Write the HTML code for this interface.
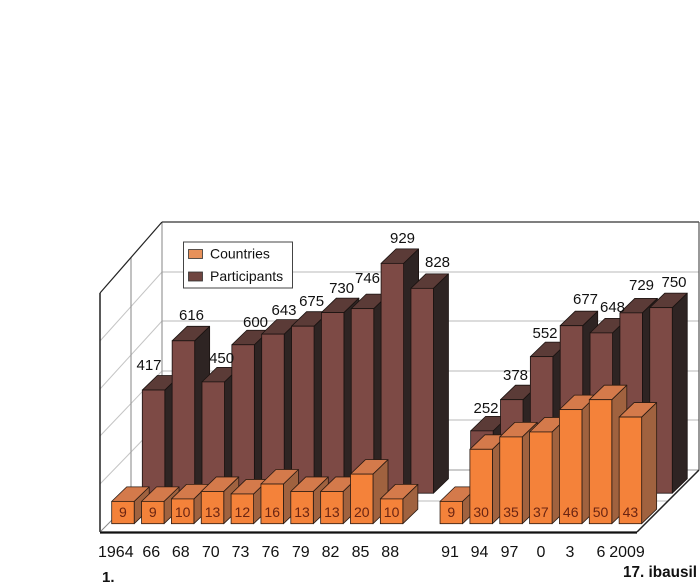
<!DOCTYPE html>
<html>
<head>
<meta charset="utf-8">
<style>
html,body{margin:0;padding:0;background:#fff;}
svg{display:block;}
text{font-family:"Liberation Sans",sans-serif;fill:#111;}
.cf{fill:#F4823A;stroke:#2a1a12;stroke-width:.8;}
.ct{fill:#D47A4B;stroke:#2a1a12;stroke-width:.8;stroke-linejoin:round;}
.cs{fill:#A0623F;stroke:#2a1a12;stroke-width:.8;stroke-linejoin:round;}
.pf{fill:#7D4A45;stroke:#1a1210;stroke-width:.8;}
.pt{fill:#5B3B37;stroke:#1a1210;stroke-width:.8;stroke-linejoin:round;}
.ps{fill:#2E2423;stroke:#1a1210;stroke-width:.8;stroke-linejoin:round;}
.in{font-size:14px;fill:#6a2412;text-anchor:middle;}
.dl{font-size:15px;text-anchor:middle;}
.cat{font-size:16px;text-anchor:middle;}
</style>
</head>
<body>
<svg width="700" height="584" viewBox="0 0 700 584" xmlns="http://www.w3.org/2000/svg">
<rect x="0" y="0" width="700" height="584" fill="#fff"/>

<!-- walls & floor -->
<g fill="none">
  <line x1="162" y1="272" x2="699" y2="272" stroke="#b8b8b8"/>
  <line x1="162" y1="321" x2="699" y2="321" stroke="#b8b8b8"/>
  <line x1="162" y1="371" x2="699" y2="371" stroke="#b8b8b8"/>
  <line x1="162" y1="420" x2="699" y2="420" stroke="#b8b8b8"/>
  <line x1="162" y1="272" x2="100" y2="341" stroke="#c4c4c4"/>
  <line x1="162" y1="321" x2="100" y2="389" stroke="#c4c4c4"/>
  <line x1="162" y1="371" x2="100" y2="436" stroke="#c4c4c4"/>
  <line x1="162" y1="420" x2="100" y2="484" stroke="#c4c4c4"/>
  <line x1="131" y1="257.5" x2="131" y2="501" stroke="#9a9a9a" stroke-width="1.2"/>
  <line x1="162" y1="222" x2="162" y2="470" stroke="#999" stroke-width="1.2"/>
  <line x1="162" y1="222" x2="699" y2="222" stroke="#333" stroke-width="1.2"/>
  <line x1="699" y1="222" x2="699" y2="470" stroke="#555" stroke-width="1.2"/>
  <line x1="162" y1="222" x2="100" y2="293" stroke="#222" stroke-width="1.2"/>
  <line x1="100" y1="293" x2="100" y2="532" stroke="#222" stroke-width="1.5"/>
  <line x1="162" y1="470" x2="699" y2="470" stroke="#999"/>
  <line x1="131" y1="501" x2="668" y2="501" stroke="#bbb"/>
  <line x1="100" y1="532" x2="162" y2="470" stroke="#888"/>
  <line x1="699" y1="470" x2="637" y2="532" stroke="#222" stroke-width="1.5"/>
  <line x1="100" y1="532.5" x2="637" y2="532.5" stroke="#111" stroke-width="2.2"/>
</g>

<!-- Participants (back row) -->
<g transform="translate(142.3,493.2)"><polygon class="ps" points="22.5,-103.17 37.5,-117.67 37.5,-14.5 22.5,0"/><polygon class="pt" points="0,-103.17 22.5,-103.17 37.5,-117.67 15,-117.67"/><rect class="pf" x="0" y="-103.17" width="22.5" height="103.17"/></g>
<g transform="translate(172.15,493.2)"><polygon class="ps" points="22.5,-152.4 37.5,-166.9 37.5,-14.5 22.5,0"/><polygon class="pt" points="0,-152.4 22.5,-152.4 37.5,-166.9 15,-166.9"/><rect class="pf" x="0" y="-152.4" width="22.5" height="152.4"/></g>
<g transform="translate(202,493.2)"><polygon class="ps" points="22.5,-111.33 37.5,-125.83 37.5,-14.5 22.5,0"/><polygon class="pt" points="0,-111.33 22.5,-111.33 37.5,-125.83 15,-125.83"/><rect class="pf" x="0" y="-111.33" width="22.5" height="111.33"/></g>
<g transform="translate(231.85,493.2)"><polygon class="ps" points="22.5,-148.44 37.5,-162.94 37.5,-14.5 22.5,0"/><polygon class="pt" points="0,-148.44 22.5,-148.44 37.5,-162.94 15,-162.94"/><rect class="pf" x="0" y="-148.44" width="22.5" height="148.44"/></g>
<g transform="translate(261.7,493.2)"><polygon class="ps" points="22.5,-159.08 37.5,-173.58 37.5,-14.5 22.5,0"/><polygon class="pt" points="0,-159.08 22.5,-159.08 37.5,-173.58 15,-173.58"/><rect class="pf" x="0" y="-159.08" width="22.5" height="159.08"/></g>
<g transform="translate(291.55,493.2)"><polygon class="ps" points="22.5,-167 37.5,-181.5 37.5,-14.5 22.5,0"/><polygon class="pt" points="0,-167 22.5,-167 37.5,-181.5 15,-181.5"/><rect class="pf" x="0" y="-167" width="22.5" height="167"/></g>
<g transform="translate(321.4,493.2)"><polygon class="ps" points="22.5,-180.6 37.5,-195.1 37.5,-14.5 22.5,0"/><polygon class="pt" points="0,-180.6 22.5,-180.6 37.5,-195.1 15,-195.1"/><rect class="pf" x="0" y="-180.6" width="22.5" height="180.6"/></g>
<g transform="translate(351.25,493.2)"><polygon class="ps" points="22.5,-184.56 37.5,-199.06 37.5,-14.5 22.5,0"/><polygon class="pt" points="0,-184.56 22.5,-184.56 37.5,-199.06 15,-199.06"/><rect class="pf" x="0" y="-184.56" width="22.5" height="184.56"/></g>
<g transform="translate(381.1,493.2)"><polygon class="ps" points="22.5,-229.83 37.5,-244.33 37.5,-14.5 22.5,0"/><polygon class="pt" points="0,-229.83 22.5,-229.83 37.5,-244.33 15,-244.33"/><rect class="pf" x="0" y="-229.83" width="22.5" height="229.83"/></g>
<g transform="translate(410.95,493.2)"><polygon class="ps" points="22.5,-204.85 37.5,-219.35 37.5,-14.5 22.5,0"/><polygon class="pt" points="0,-204.85 22.5,-204.85 37.5,-219.35 15,-219.35"/><rect class="pf" x="0" y="-204.85" width="22.5" height="204.85"/></g>
<g transform="translate(470.65,493.2)"><polygon class="ps" points="22.5,-62.34 37.5,-76.84 37.5,-14.5 22.5,0"/><polygon class="pt" points="0,-62.34 22.5,-62.34 37.5,-76.84 15,-76.84"/><rect class="pf" x="0" y="-62.34" width="22.5" height="62.34"/></g>
<g transform="translate(500.5,493.2)"><polygon class="ps" points="22.5,-93.52 37.5,-108.02 37.5,-14.5 22.5,0"/><polygon class="pt" points="0,-93.52 22.5,-93.52 37.5,-108.02 15,-108.02"/><rect class="pf" x="0" y="-93.52" width="22.5" height="93.52"/></g>
<g transform="translate(530.35,493.2)"><polygon class="ps" points="22.5,-136.56 37.5,-151.06 37.5,-14.5 22.5,0"/><polygon class="pt" points="0,-136.56 22.5,-136.56 37.5,-151.06 15,-151.06"/><rect class="pf" x="0" y="-136.56" width="22.5" height="136.56"/></g>
<g transform="translate(560.2,493.2)"><polygon class="ps" points="22.5,-167.49 37.5,-181.99 37.5,-14.5 22.5,0"/><polygon class="pt" points="0,-167.49 22.5,-167.49 37.5,-181.99 15,-181.99"/><rect class="pf" x="0" y="-167.49" width="22.5" height="167.49"/></g>
<g transform="translate(590.05,493.2)"><polygon class="ps" points="22.5,-160.32 37.5,-174.82 37.5,-14.5 22.5,0"/><polygon class="pt" points="0,-160.32 22.5,-160.32 37.5,-174.82 15,-174.82"/><rect class="pf" x="0" y="-160.32" width="22.5" height="160.32"/></g>
<g transform="translate(619.9,493.2)"><polygon class="ps" points="22.5,-180.35 37.5,-194.85 37.5,-14.5 22.5,0"/><polygon class="pt" points="0,-180.35 22.5,-180.35 37.5,-194.85 15,-194.85"/><rect class="pf" x="0" y="-180.35" width="22.5" height="180.35"/></g>
<g transform="translate(649.75,493.2)"><polygon class="ps" points="22.5,-185.55 37.5,-200.05 37.5,-14.5 22.5,0"/><polygon class="pt" points="0,-185.55 22.5,-185.55 37.5,-200.05 15,-200.05"/><rect class="pf" x="0" y="-185.55" width="22.5" height="185.55"/></g>

<!-- Countries (front row) -->
<g transform="translate(111.7,523.7)"><polygon class="cs" points="22.5,-22.32 37.5,-36.82 37.5,-14.5 22.5,0"/><polygon class="ct" points="0,-22.32 22.5,-22.32 37.5,-36.82 15,-36.82"/><rect class="cf" x="0" y="-22.32" width="22.5" height="22.32"/><text class="in" x="11.25" y="-6.7">9</text></g>
<g transform="translate(141.55,523.7)"><polygon class="cs" points="22.5,-22.32 37.5,-36.82 37.5,-14.5 22.5,0"/><polygon class="ct" points="0,-22.32 22.5,-22.32 37.5,-36.82 15,-36.82"/><rect class="cf" x="0" y="-22.32" width="22.5" height="22.32"/><text class="in" x="11.25" y="-6.7">9</text></g>
<g transform="translate(171.4,523.7)"><polygon class="cs" points="22.5,-24.8 37.5,-39.3 37.5,-14.5 22.5,0"/><polygon class="ct" points="0,-24.8 22.5,-24.8 37.5,-39.3 15,-39.3"/><rect class="cf" x="0" y="-24.8" width="22.5" height="24.8"/><text class="in" x="11.25" y="-6.7">10</text></g>
<g transform="translate(201.25,523.7)"><polygon class="cs" points="22.5,-32.24 37.5,-46.74 37.5,-14.5 22.5,0"/><polygon class="ct" points="0,-32.24 22.5,-32.24 37.5,-46.74 15,-46.74"/><rect class="cf" x="0" y="-32.24" width="22.5" height="32.24"/><text class="in" x="11.25" y="-6.7">13</text></g>
<g transform="translate(231.1,523.7)"><polygon class="cs" points="22.5,-29.76 37.5,-44.26 37.5,-14.5 22.5,0"/><polygon class="ct" points="0,-29.76 22.5,-29.76 37.5,-44.26 15,-44.26"/><rect class="cf" x="0" y="-29.76" width="22.5" height="29.76"/><text class="in" x="11.25" y="-6.7">12</text></g>
<g transform="translate(260.95,523.7)"><polygon class="cs" points="22.5,-39.68 37.5,-54.18 37.5,-14.5 22.5,0"/><polygon class="ct" points="0,-39.68 22.5,-39.68 37.5,-54.18 15,-54.18"/><rect class="cf" x="0" y="-39.68" width="22.5" height="39.68"/><text class="in" x="11.25" y="-6.7">16</text></g>
<g transform="translate(290.8,523.7)"><polygon class="cs" points="22.5,-32.24 37.5,-46.74 37.5,-14.5 22.5,0"/><polygon class="ct" points="0,-32.24 22.5,-32.24 37.5,-46.74 15,-46.74"/><rect class="cf" x="0" y="-32.24" width="22.5" height="32.24"/><text class="in" x="11.25" y="-6.7">13</text></g>
<g transform="translate(320.65,523.7)"><polygon class="cs" points="22.5,-32.24 37.5,-46.74 37.5,-14.5 22.5,0"/><polygon class="ct" points="0,-32.24 22.5,-32.24 37.5,-46.74 15,-46.74"/><rect class="cf" x="0" y="-32.24" width="22.5" height="32.24"/><text class="in" x="11.25" y="-6.7">13</text></g>
<g transform="translate(350.5,523.7)"><polygon class="cs" points="22.5,-49.6 37.5,-64.1 37.5,-14.5 22.5,0"/><polygon class="ct" points="0,-49.6 22.5,-49.6 37.5,-64.1 15,-64.1"/><rect class="cf" x="0" y="-49.6" width="22.5" height="49.6"/><text class="in" x="11.25" y="-6.7">20</text></g>
<g transform="translate(380.35,523.7)"><polygon class="cs" points="22.5,-24.8 37.5,-39.3 37.5,-14.5 22.5,0"/><polygon class="ct" points="0,-24.8 22.5,-24.8 37.5,-39.3 15,-39.3"/><rect class="cf" x="0" y="-24.8" width="22.5" height="24.8"/><text class="in" x="11.25" y="-6.7">10</text></g>
<g transform="translate(440.05,523.7)"><polygon class="cs" points="22.5,-22.32 37.5,-36.82 37.5,-14.5 22.5,0"/><polygon class="ct" points="0,-22.32 22.5,-22.32 37.5,-36.82 15,-36.82"/><rect class="cf" x="0" y="-22.32" width="22.5" height="22.32"/><text class="in" x="11.25" y="-6.7">9</text></g>
<g transform="translate(469.9,523.7)"><polygon class="cs" points="22.5,-74.4 37.5,-88.9 37.5,-14.5 22.5,0"/><polygon class="ct" points="0,-74.4 22.5,-74.4 37.5,-88.9 15,-88.9"/><rect class="cf" x="0" y="-74.4" width="22.5" height="74.4"/><text class="in" x="11.25" y="-6.7">30</text></g>
<g transform="translate(499.75,523.7)"><polygon class="cs" points="22.5,-86.8 37.5,-101.3 37.5,-14.5 22.5,0"/><polygon class="ct" points="0,-86.8 22.5,-86.8 37.5,-101.3 15,-101.3"/><rect class="cf" x="0" y="-86.8" width="22.5" height="86.8"/><text class="in" x="11.25" y="-6.7">35</text></g>
<g transform="translate(529.6,523.7)"><polygon class="cs" points="22.5,-91.76 37.5,-106.26 37.5,-14.5 22.5,0"/><polygon class="ct" points="0,-91.76 22.5,-91.76 37.5,-106.26 15,-106.26"/><rect class="cf" x="0" y="-91.76" width="22.5" height="91.76"/><text class="in" x="11.25" y="-6.7">37</text></g>
<g transform="translate(559.45,523.7)"><polygon class="cs" points="22.5,-114.08 37.5,-128.58 37.5,-14.5 22.5,0"/><polygon class="ct" points="0,-114.08 22.5,-114.08 37.5,-128.58 15,-128.58"/><rect class="cf" x="0" y="-114.08" width="22.5" height="114.08"/><text class="in" x="11.25" y="-6.7">46</text></g>
<g transform="translate(589.3,523.7)"><polygon class="cs" points="22.5,-124 37.5,-138.5 37.5,-14.5 22.5,0"/><polygon class="ct" points="0,-124 22.5,-124 37.5,-138.5 15,-138.5"/><rect class="cf" x="0" y="-124" width="22.5" height="124"/><text class="in" x="11.25" y="-6.7">50</text></g>
<g transform="translate(619.15,523.7)"><polygon class="cs" points="22.5,-106.64 37.5,-121.14 37.5,-14.5 22.5,0"/><polygon class="ct" points="0,-106.64 22.5,-106.64 37.5,-121.14 15,-121.14"/><rect class="cf" x="0" y="-106.64" width="22.5" height="106.64"/><text class="in" x="11.25" y="-6.7">43</text></g>

<!-- participant data labels -->
<text class="dl" x="149" y="370">417</text>
<text class="dl" x="191.5" y="320">616</text>
<text class="dl" x="221.6" y="363">450</text>
<text class="dl" x="255.5" y="327">600</text>
<text class="dl" x="284" y="315">643</text>
<text class="dl" x="311.6" y="306">675</text>
<text class="dl" x="341.6" y="293">730</text>
<text class="dl" x="367.5" y="283">746</text>
<text class="dl" x="402.5" y="243">929</text>
<text class="dl" x="437.5" y="267">828</text>
<text class="dl" x="486" y="413">252</text>
<text class="dl" x="515.5" y="380">378</text>
<text class="dl" x="545" y="338">552</text>
<text class="dl" x="585.5" y="304">677</text>
<text class="dl" x="612.5" y="312">648</text>
<text class="dl" x="641.5" y="290">729</text>
<text class="dl" x="674" y="287">750</text>

<!-- legend -->
<rect x="183.5" y="242" width="109" height="46" fill="#fff" stroke="#444" stroke-width="1"/>
<rect x="188.5" y="249.5" width="14" height="9" fill="#E8915A" stroke="#333" stroke-width=".8"/>
<rect x="188.5" y="272" width="14" height="9" fill="#6F4540" stroke="#333" stroke-width=".8"/>
<text x="210" y="258.5" style="font-size:14px">Countries</text>
<text x="210" y="281" style="font-size:14px">Participants</text>

<!-- category labels -->
<text class="cat" x="115.8" y="557">1964</text>
<text class="cat" x="151.3" y="557">66</text>
<text class="cat" x="180.8" y="557">68</text>
<text class="cat" x="210.8" y="557">70</text>
<text class="cat" x="240.5" y="557">73</text>
<text class="cat" x="270.5" y="557">76</text>
<text class="cat" x="300.8" y="557">79</text>
<text class="cat" x="330.5" y="557">82</text>
<text class="cat" x="360.5" y="557">85</text>
<text class="cat" x="390.2" y="557">88</text>
<text class="cat" x="450" y="557">91</text>
<text class="cat" x="479.5" y="557">94</text>
<text class="cat" x="509.5" y="557">97</text>
<text class="cat" x="541" y="557">0</text>
<text class="cat" x="570" y="557">3</text>
<text class="cat" x="601" y="557">6</text>
<text class="cat" x="627" y="557">2009</text>

<text x="102" y="582" style="font-size:15px;font-weight:bold">1.</text>
<text x="623" y="577" style="font-size:16px;font-weight:bold" textLength="74" lengthAdjust="spacingAndGlyphs">17. ibausil</text>
</svg>
</body>
</html>
